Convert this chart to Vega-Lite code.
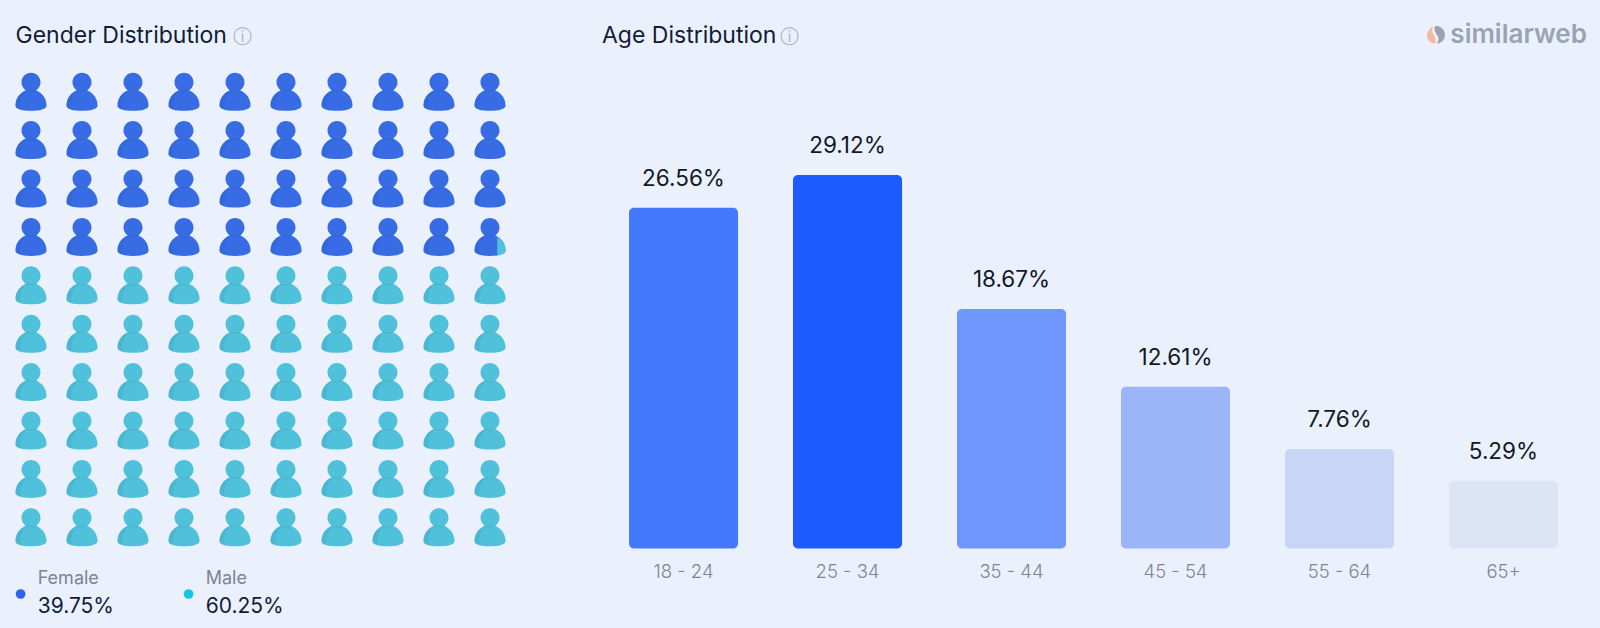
{
  "$schema": "https://vega.github.io/schema/vega-lite/v6.json",
  "description": "Gender and age distribution of an audience.",
  "background": "#ebf1fc",
  "padding": {"left": 5.5, "top": 21.5, "right": 14.5, "bottom": 13},
  "spacing": 86,
  "resolve": {"scale": {"color": "independent", "shape": "independent"}},
  "config": {
    "view": {"stroke": null},
    "font": "Inter",
    "title": {"font": "Inter", "fontSize": 23, "fontWeight": 400, "color": "#121c38", "anchor": "start"}
  },
  "datasets": {
    "people": [
      {"gender":"Female","row":1,"col":1,"part":"whole"},{"gender":"Female","row":1,"col":2,"part":"whole"},{"gender":"Female","row":1,"col":3,"part":"whole"},{"gender":"Female","row":1,"col":4,"part":"whole"},{"gender":"Female","row":1,"col":5,"part":"whole"},{"gender":"Female","row":1,"col":6,"part":"whole"},{"gender":"Female","row":1,"col":7,"part":"whole"},{"gender":"Female","row":1,"col":8,"part":"whole"},{"gender":"Female","row":1,"col":9,"part":"whole"},{"gender":"Female","row":1,"col":10,"part":"whole"},
      {"gender":"Female","row":2,"col":1,"part":"whole"},{"gender":"Female","row":2,"col":2,"part":"whole"},{"gender":"Female","row":2,"col":3,"part":"whole"},{"gender":"Female","row":2,"col":4,"part":"whole"},{"gender":"Female","row":2,"col":5,"part":"whole"},{"gender":"Female","row":2,"col":6,"part":"whole"},{"gender":"Female","row":2,"col":7,"part":"whole"},{"gender":"Female","row":2,"col":8,"part":"whole"},{"gender":"Female","row":2,"col":9,"part":"whole"},{"gender":"Female","row":2,"col":10,"part":"whole"},
      {"gender":"Female","row":3,"col":1,"part":"whole"},{"gender":"Female","row":3,"col":2,"part":"whole"},{"gender":"Female","row":3,"col":3,"part":"whole"},{"gender":"Female","row":3,"col":4,"part":"whole"},{"gender":"Female","row":3,"col":5,"part":"whole"},{"gender":"Female","row":3,"col":6,"part":"whole"},{"gender":"Female","row":3,"col":7,"part":"whole"},{"gender":"Female","row":3,"col":8,"part":"whole"},{"gender":"Female","row":3,"col":9,"part":"whole"},{"gender":"Female","row":3,"col":10,"part":"whole"},
      {"gender":"Female","row":4,"col":1,"part":"whole"},{"gender":"Female","row":4,"col":2,"part":"whole"},{"gender":"Female","row":4,"col":3,"part":"whole"},{"gender":"Female","row":4,"col":4,"part":"whole"},{"gender":"Female","row":4,"col":5,"part":"whole"},{"gender":"Female","row":4,"col":6,"part":"whole"},{"gender":"Female","row":4,"col":7,"part":"whole"},{"gender":"Female","row":4,"col":8,"part":"whole"},{"gender":"Female","row":4,"col":9,"part":"whole"},{"gender":"Female","row":4,"col":10,"part":"whole"},
      {"gender":"Male","row":5,"col":1,"part":"whole"},{"gender":"Male","row":5,"col":2,"part":"whole"},{"gender":"Male","row":5,"col":3,"part":"whole"},{"gender":"Male","row":5,"col":4,"part":"whole"},{"gender":"Male","row":5,"col":5,"part":"whole"},{"gender":"Male","row":5,"col":6,"part":"whole"},{"gender":"Male","row":5,"col":7,"part":"whole"},{"gender":"Male","row":5,"col":8,"part":"whole"},{"gender":"Male","row":5,"col":9,"part":"whole"},{"gender":"Male","row":5,"col":10,"part":"whole"},
      {"gender":"Male","row":6,"col":1,"part":"whole"},{"gender":"Male","row":6,"col":2,"part":"whole"},{"gender":"Male","row":6,"col":3,"part":"whole"},{"gender":"Male","row":6,"col":4,"part":"whole"},{"gender":"Male","row":6,"col":5,"part":"whole"},{"gender":"Male","row":6,"col":6,"part":"whole"},{"gender":"Male","row":6,"col":7,"part":"whole"},{"gender":"Male","row":6,"col":8,"part":"whole"},{"gender":"Male","row":6,"col":9,"part":"whole"},{"gender":"Male","row":6,"col":10,"part":"whole"},
      {"gender":"Male","row":7,"col":1,"part":"whole"},{"gender":"Male","row":7,"col":2,"part":"whole"},{"gender":"Male","row":7,"col":3,"part":"whole"},{"gender":"Male","row":7,"col":4,"part":"whole"},{"gender":"Male","row":7,"col":5,"part":"whole"},{"gender":"Male","row":7,"col":6,"part":"whole"},{"gender":"Male","row":7,"col":7,"part":"whole"},{"gender":"Male","row":7,"col":8,"part":"whole"},{"gender":"Male","row":7,"col":9,"part":"whole"},{"gender":"Male","row":7,"col":10,"part":"whole"},
      {"gender":"Male","row":8,"col":1,"part":"whole"},{"gender":"Male","row":8,"col":2,"part":"whole"},{"gender":"Male","row":8,"col":3,"part":"whole"},{"gender":"Male","row":8,"col":4,"part":"whole"},{"gender":"Male","row":8,"col":5,"part":"whole"},{"gender":"Male","row":8,"col":6,"part":"whole"},{"gender":"Male","row":8,"col":7,"part":"whole"},{"gender":"Male","row":8,"col":8,"part":"whole"},{"gender":"Male","row":8,"col":9,"part":"whole"},{"gender":"Male","row":8,"col":10,"part":"whole"},
      {"gender":"Male","row":9,"col":1,"part":"whole"},{"gender":"Male","row":9,"col":2,"part":"whole"},{"gender":"Male","row":9,"col":3,"part":"whole"},{"gender":"Male","row":9,"col":4,"part":"whole"},{"gender":"Male","row":9,"col":5,"part":"whole"},{"gender":"Male","row":9,"col":6,"part":"whole"},{"gender":"Male","row":9,"col":7,"part":"whole"},{"gender":"Male","row":9,"col":8,"part":"whole"},{"gender":"Male","row":9,"col":9,"part":"whole"},{"gender":"Male","row":9,"col":10,"part":"whole"},
      {"gender":"Male","row":10,"col":1,"part":"whole"},{"gender":"Male","row":10,"col":2,"part":"whole"},{"gender":"Male","row":10,"col":3,"part":"whole"},{"gender":"Male","row":10,"col":4,"part":"whole"},{"gender":"Male","row":10,"col":5,"part":"whole"},{"gender":"Male","row":10,"col":6,"part":"whole"},{"gender":"Male","row":10,"col":7,"part":"whole"},{"gender":"Male","row":10,"col":8,"part":"whole"},{"gender":"Male","row":10,"col":9,"part":"whole"},{"gender":"Male","row":10,"col":10,"part":"whole"},
      {"gender":"Male","row":4,"col":10,"part":"sliver"}
    ],
    "genders": [
      {"gender": "Female", "share": 0.3975},
      {"gender": "Male", "share": 0.6025}
    ],
    "ages": [
      {"age": "18 - 24", "share": 0.2656},
      {"age": "25 - 34", "share": 0.2912},
      {"age": "35 - 44", "share": 0.1867},
      {"age": "45 - 54", "share": 0.1261},
      {"age": "55 - 64", "share": 0.0776},
      {"age": "65+", "share": 0.0529}
    ]
  },
  "hconcat": [
    {
      "vconcat": [
        {
          "width": 510,
          "height": 484,
          "title": {"text": "Gender Distribution", "dx": 10, "offset": -20},
          "data": {"name": "people"},
          "layer": [
            {
              "transform": [{"filter": "datum.part === 'whole'"}],
              "mark": {"type": "point", "filled": true, "opacity": 1, "size": 1444},
              "encoding": {
                "x": {"field": "col", "type": "quantitative", "axis": null, "scale": {"domain": [0.5, 10.5], "nice": false, "zero": false}},
                "y": {"field": "row", "type": "quantitative", "axis": null, "scale": {"domain": [0.5, 10.5], "nice": false, "zero": false, "reverse": true}},
                "color": {"field": "gender", "type": "nominal", "legend": null, "scale": {"domain": ["Female", "Male"], "range": ["#376ce4", "#50c1da"]}},
                "shape": {"value": "M0,-1A0.5,0.5,0,1,1,0,0A0.5,0.5,0,1,1,0,-1ZM-0.82,0.72C-0.82,0.25,-0.45,-0.12,0,-0.12C0.45,-0.12,0.82,0.25,0.82,0.72C0.82,0.92,0.45,1,0,1C-0.45,1,-0.82,0.92,-0.82,0.72Z"}
              }
            },
            {
              "transform": [{"filter": "datum.part === 'whole'"}],
              "mark": {
                "type": "point",
                "filled": true,
                "size": 1444,
                "opacity": 0.08,
                "color": "#0b3a6e",
                "shape": "M-0.82,0.72C-0.82,0.25,-0.45,-0.12,-0.12,-0.12C-0.45,0.1,-0.62,0.45,-0.55,0.97C-0.72,0.92,-0.82,0.85,-0.82,0.72ZM-0.36,-0.18C-0.2,-0.02,0.2,-0.02,0.36,-0.18C0.3,0.08,-0.3,0.08,-0.36,-0.18Z"
              },
              "encoding": {
                "x": {"field": "col", "type": "quantitative"},
                "y": {"field": "row", "type": "quantitative"}
              }
            },
            {
              "transform": [{"filter": "datum.part === 'sliver'"}],
              "mark": {"type": "point", "filled": true, "opacity": 1, "size": 1444, "shape": "M0.38,0C0.65,0.15,0.82,0.42,0.82,0.72C0.82,0.86,0.62,0.95,0.38,0.98Z"},
              "encoding": {
                "x": {"field": "col", "type": "quantitative"},
                "y": {"field": "row", "type": "quantitative"},
                "color": {"field": "gender", "type": "nominal", "legend": null}
              }
            },
            {
              "data": {"values": [{}]},
              "mark": {"type": "text", "text": "ⓘ", "font": "DejaVu Sans", "fontSize": 19, "color": "#a9b1bf", "baseline": "middle"},
              "encoding": {
                "x": {"datum": 5.14, "type": "quantitative"},
                "y": {"datum": -0.14, "type": "quantitative"}
              }
            }
          ]
        },
        {
          "width": 168,
          "height": 60,
          "data": {"name": "genders"},
          "encoding": {
            "x": {"field": "gender", "type": "nominal", "axis": null, "scale": {"type": "point", "padding": 0}}
          },
          "layer": [
            {
              "mark": {"type": "point", "shape": "circle", "filled": true, "opacity": 1, "size": 95, "xOffset": 15.1, "yOffset": 2},
              "encoding": {
                "color": {"field": "gender", "type": "nominal", "legend": null, "scale": {"domain": ["Female", "Male"], "range": ["#2a63ee", "#1ac5e3"]}}
              }
            },
            {
              "mark": {"type": "text", "align": "left", "baseline": "middle", "dx": 32.2, "dy": -13.5, "fontSize": 18, "color": "#7b8494"},
              "encoding": {"text": {"field": "gender", "type": "nominal"}}
            },
            {
              "mark": {"type": "text", "align": "left", "baseline": "middle", "dx": 32.2, "dy": 14.5, "fontSize": 21, "color": "#121c38"},
              "encoding": {"text": {"field": "share", "type": "quantitative", "format": ".2%"}}
            }
          ]
        }
      ],
      "spacing": 10.5,
      "resolve": {"scale": {"color": "independent", "shape": "independent"}}
    },
    {
      "width": 984,
      "height": 481,
      "title": {"text": "Age Distribution", "dx": 0.5, "offset": -26},
      "data": {"name": "ages"},
      "layer": [
        {
          "mark": {"type": "bar", "cornerRadius": 5},
          "encoding": {
            "x": {
              "field": "age",
              "type": "nominal",
              "title": null,
              "sort": null,
              "scale": {"type": "band", "paddingInner": 0.335, "paddingOuter": 0.1677},
              "axis": {"labelAngle": 0, "ticks": false, "domain": false, "labelFontSize": 18.5, "labelColor": "#7d8592", "labelPadding": 14, "labelFont": "Inter", "labelFontWeight": 300}
            },
            "y": {"field": "share", "type": "quantitative", "axis": null, "stack": null, "scale": {"domain": [0, 0.375], "nice": false}},
            "color": {"field": "age", "type": "nominal", "legend": null, "scale": {"domain": ["18 - 24", "25 - 34", "35 - 44", "45 - 54", "55 - 64", "65+"], "range": ["#4479fe", "#1c5cff", "#6f96fc", "#9cb5f9", "#c8d5f7", "#dde4f6"]}}
          }
        },
        {
          "mark": {"type": "text", "baseline": "middle", "dy": -29, "fontSize": 22.5, "color": "#111827"},
          "encoding": {
            "x": {"field": "age", "type": "nominal", "sort": null},
            "y": {"field": "share", "type": "quantitative", "stack": null},
            "text": {"field": "share", "type": "quantitative", "format": ".2%"}
          }
        },
        {
          "data": {"values": [{}]},
          "mark": {"type": "text", "text": "ⓘ", "font": "DejaVu Sans", "fontSize": 19, "color": "#a9b1bf", "baseline": "middle", "dx": -58},
          "encoding": {
            "x": {"datum": "25 - 34"},
            "y": {"datum": 0.3989, "type": "quantitative"}
          }
        },
        {
          "data": {"values": [{}]},
          "mark": {"type": "text", "text": "similarweb", "fontSize": 26, "fontWeight": 600, "color": "#9aa3b3", "align": "right", "baseline": "middle", "dx": 83.5},
          "encoding": {
            "x": {"datum": "65+"},
            "y": {"datum": 0.4006, "type": "quantitative"}
          }
        },
        {
          "data": {"values": [{}]},
          "mark": {"type": "point", "filled": true, "opacity": 1, "size": 324, "xOffset": -67.5, "color": "#9aa3b3", "shape": "M-0.1,-0.95C0.5,-1.05,1,-0.55,1,0C1,0.55,0.6,0.95,0.1,1C0.35,0.6,0.35,0.3,0.1,0C-0.15,-0.3,-0.25,-0.65,-0.1,-0.95Z"},
          "encoding": {
            "x": {"datum": "65+"},
            "y": {"datum": 0.4006, "type": "quantitative"}
          }
        },
        {
          "data": {"values": [{}]},
          "mark": {"type": "point", "filled": true, "opacity": 1, "size": 324, "xOffset": -67.5, "color": "#f4ba9c", "shape": "M-0.35,-0.9C-0.5,-0.5,-0.4,-0.2,-0.2,0.1C0,0.45,0.05,0.75,-0.15,1C-0.65,0.95,-1,0.55,-1,0.1C-1,-0.35,-0.7,-0.7,-0.35,-0.9Z"},
          "encoding": {
            "x": {"datum": "65+"},
            "y": {"datum": 0.4006, "type": "quantitative"}
          }
        }
      ]
    }
  ]
}
